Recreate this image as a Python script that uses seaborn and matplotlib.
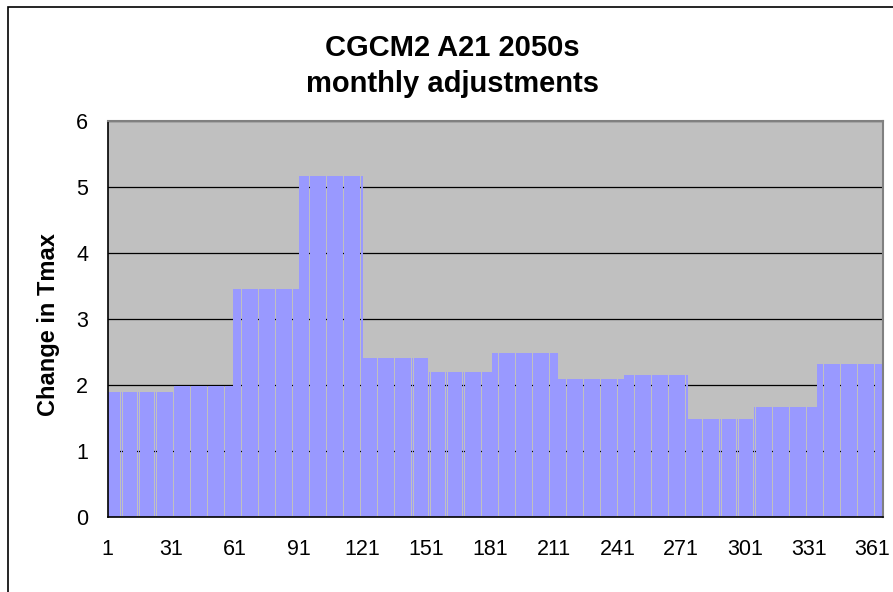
import numpy as np
import pandas as pd
import matplotlib
matplotlib.use('Agg')
import matplotlib.pyplot as plt
from matplotlib.patches import Rectangle
import seaborn as sns

# monthly Tmax adjustments, applied to each day of the month
month_lengths = [31, 28, 31, 30, 31, 30, 31, 31, 30, 31, 30, 31]
month_values = [1.90, 1.99, 3.45, 5.17, 2.41, 2.20, 2.49, 2.09, 2.15, 1.49, 1.67, 2.32]
tick_days = [1, 31, 61, 91, 121, 151, 181, 211, 241, 271, 301, 331, 361]
y_ticks = [0, 1, 2, 3, 4, 5, 6]

days = np.arange(1, sum(month_lengths) + 1)
daily = np.repeat(month_values, month_lengths)
df = pd.DataFrame({'day': days, 'change': daily})

sns.set_style('white')
plt.rcParams['font.family'] = ['Liberation Sans', 'DejaVu Sans']
plt.rcParams.update({'text.color': 'black', 'axes.labelcolor': 'black',
                     'xtick.color': 'black', 'ytick.color': 'black'})

fig = plt.figure(figsize=(8.93, 5.92), dpi=100)
ax = fig.add_axes([107.7 / 893, 75 / 592, 775.3 / 893, 396 / 592])

# 365 daily bars, drawn without antialiasing so thin seams show like the original
sns.barplot(data=df, x='day', y='change', color='#9999FF', saturation=1,
            width=0.93, linewidth=0, errorbar=None, antialiased=False, ax=ax)

ax.set_facecolor('#C0C0C0')
ax.set_axisbelow(True)
ax.yaxis.grid(True, color='black', linewidth=0.9)
ax.xaxis.grid(False)

ax.set_ylim(0, 6)
ax.set_yticks(y_ticks)
ax.set_yticklabels([str(v) for v in y_ticks], fontsize=15.5)
ax.set_xlim(-0.5, len(days) - 0.5)
ax.set_xticks([d - 1.5 if d > 1 else -0.5 for d in tick_days])
ax.set_xticklabels([str(d) for d in tick_days], fontsize=15.5)
ax.tick_params(axis='both', direction='out', length=5, width=1, color='black')
ax.tick_params(axis='y', pad=9)
ax.tick_params(axis='x', pad=10.5)
ax.set_xlabel('')
ax.set_ylabel('Change in Tmax', fontsize=17, fontweight='bold')
ax.yaxis.set_label_coords(-0.0615, 0.485)

for side in ['left', 'bottom']:
    ax.spines[side].set_color('black')
    ax.spines[side].set_linewidth(1.2)
for side in ['top', 'right']:
    ax.spines[side].set_color('#808080')
    ax.spines[side].set_linewidth(1.5)

fig.text(452 / 893, 1 - 66 / 592, 'CGCM2 A21 2050s\nmonthly adjustments',
         ha='center', va='center', fontsize=21, fontweight='bold', linespacing=1.35)

# chart area frame (right and bottom edges fall outside the image)
fig.patches.append(Rectangle((7.5 / 893, -0.1), 1.2, 1.1 - 6.5 / 592, transform=fig.transFigure,
                             fill=False, edgecolor='black', linewidth=1.2, clip_on=False))

fig.savefig('out.png', dpi=100)
